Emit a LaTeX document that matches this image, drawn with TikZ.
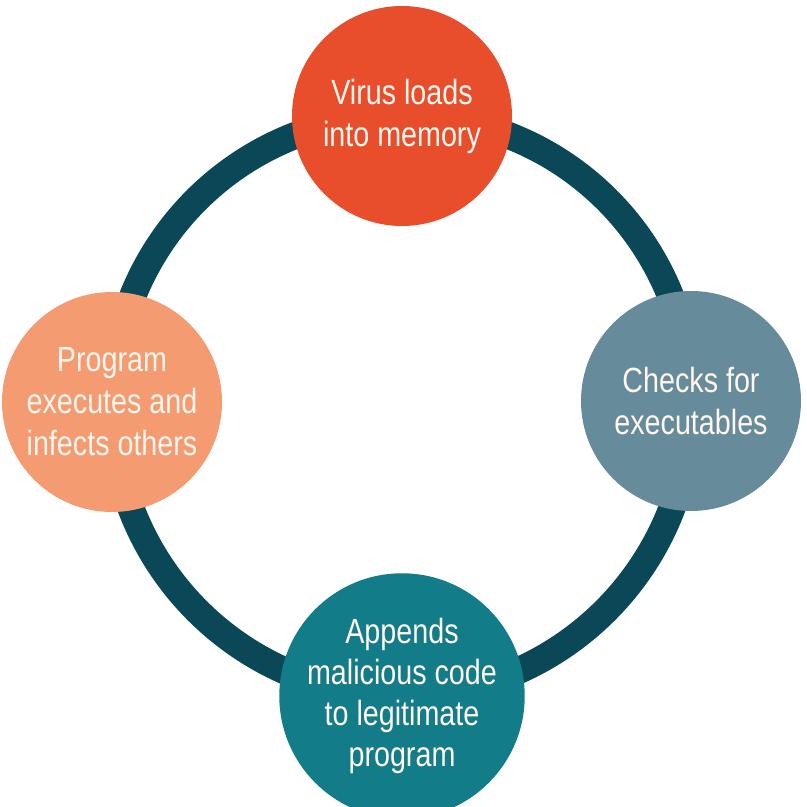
\documentclass[tikz,border=0pt]{standalone}
\usepackage{fontspec}
\setmainfont{Liberation Sans}[FakeStretch=0.82]
\usepackage{tikz}
\usepackage{xcolor}
\usetikzlibrary{backgrounds}
\definecolor{ringteal}{RGB}{10,72,88}
\definecolor{loadred}{RGB}{232,78,44}
\definecolor{checkgray}{RGB}{102,139,155}
\definecolor{appendteal}{RGB}{18,124,136}
\definecolor{execpeach}{RGB}{244,155,114}
\definecolor{softwhite}{RGB}{255,246,238}

\begin{document}
\begin{tikzpicture}[x=1pt, y=1pt,
    stage/.style={circle, minimum size=220pt, inner sep=0pt, align=center, text=softwhite, font=\fontsize{35}{42}\selectfont},
    ring/.style={draw=ringteal, line width=27pt}]
      \useasboundingbox (0,0) rectangle (807,807);
      \node[stage, fill=loadred] (load) at (402,691) {Virus loads\\into memory};
      \node[stage, fill=checkgray] (check) at (691,406) {Checks for\\executables};
      \node[stage, fill=appendteal, font=\fontsize{35}{41}\selectfont] (append) at (402,111) {Appends\\malicious code\\to legitimate\\program};
      \node[stage, fill=execpeach] (exec) at (112,405) {Program\\executes and\\infects others};
      \begin{scope}[on background layer]
        \draw[ring] (load.center) to[bend left=45] (check.center);
        \draw[ring] (check.center) to[bend left=45] (append.center);
        \draw[ring] (append.center) to[bend left=45] (exec.center);
        \draw[ring] (exec.center) to[bend left=45] (load.center);
      \end{scope}
    \end{tikzpicture}
\end{document}
